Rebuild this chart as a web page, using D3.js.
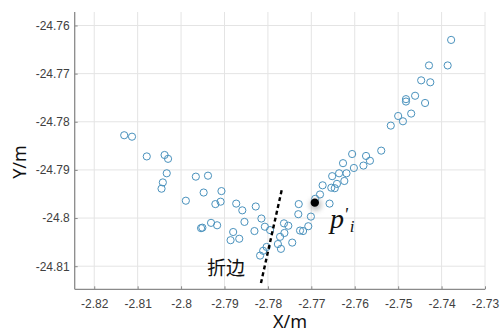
<!DOCTYPE html>
<html>
<head>
<meta charset="utf-8">
<script src="https://cdn.jsdelivr.net/npm/d3@7"></script>
<style>
  body { margin: 0; background: #fff; }
  svg { display: block; }
</style>
</head>
<body>
<div id="chart"></div>
<script>
var svgWidth = 501;
var svgHeight = 333;

// scatter points
var xVals = [-2.8131, -2.8113, -2.8079, -2.8038, -2.8030, -2.8033, -2.8042, -2.8045, -2.7989, -2.7966,
  -2.7938, -2.7948, -2.7907, -2.7921, -2.7909, -2.7954, -2.7951, -2.7931, -2.7917, -2.7873,
  -2.7859, -2.7854, -2.7880, -2.7886, -2.7866, -2.7828, -2.7831, -2.7815, -2.7807, -2.7795,
  -2.7763, -2.7753, -2.7762, -2.7772, -2.7777, -2.7770, -2.7744, -2.7803, -2.7811, -2.7818,
  -2.7729, -2.7730, -2.7701, -2.7707, -2.7726, -2.7719, -2.7691, -2.7680, -2.7674, -2.7658,
  -2.7652, -2.7654, -2.7646, -2.7641, -2.7636, -2.7627, -2.7624, -2.7619, -2.7602, -2.7580,
  -2.7565, -2.7574, -2.7606, -2.7539, -2.7517, -2.7500, -2.7489, -2.7470, -2.7482, -2.7482,
  -2.7461, -2.7438, -2.7447, -2.7426, -2.7429, -2.7386, -2.7378];
var yVals = [-24.7828, -24.7831, -24.7872, -24.7869, -24.7877, -24.7907, -24.7926, -24.7939, -24.7964, -24.7914,
  -24.7912, -24.7947, -24.7944, -24.7971, -24.7966, -24.8021, -24.8020, -24.8010, -24.8015, -24.7970,
  -24.7984, -24.8008, -24.8029, -24.8046, -24.8043, -24.7976, -24.8027, -24.8001, -24.8018, -24.8025,
  -24.8011, -24.8016, -24.8031, -24.8039, -24.8054, -24.8064, -24.8051, -24.8060, -24.8068, -24.8078,
  -24.7971, -24.7992, -24.7997, -24.8017, -24.8026, -24.8027, -24.7960, -24.7951, -24.7932, -24.7970,
  -24.7913, -24.7937, -24.7938, -24.7929, -24.7907, -24.7886, -24.7923, -24.7907, -24.7896, -24.7891,
  -24.7881, -24.7871, -24.7867, -24.7860, -24.7808, -24.7788, -24.7799, -24.7783, -24.7753, -24.7758,
  -24.7746, -24.7761, -24.7714, -24.7718, -24.7683, -24.7683, -24.7630];

// highlighted point p'_i
var markX = [-2.7692];
var markY = [-24.7968];

// folded edge (dashed line) end points
var edgeX = [-2.7816, -2.7767];
var edgeY = [-24.8135, -24.7937];

var xTicks = [-2.82, -2.81, -2.80, -2.79, -2.78, -2.77, -2.76, -2.75, -2.74, -2.73];
var xTickLabels = ["-2.82", "-2.81", "-2.8", "-2.79", "-2.78", "-2.77", "-2.76", "-2.75", "-2.74", "-2.73"];
var yTicks = [-24.76, -24.77, -24.78, -24.79, -24.80, -24.81];
var yTickLabels = ["-24.76", "-24.77", "-24.78", "-24.79", "-24.8", "-24.81"];

var points = xVals.map(function(x, i) { return { x: x, y: yVals[i] }; });

var plot = { left: 74.7, right: 485, top: 12, bottom: 289.3 };

var svg = d3.select("#chart")
  .append("svg")
  .attr("width", svgWidth)
  .attr("height", svgHeight);

var defs = svg.append("defs");
var glow = defs.append("filter").attr("id", "glow")
  .attr("x", "-150%").attr("y", "-150%").attr("width", "400%").attr("height", "400%");
glow.append("feGaussianBlur").attr("stdDeviation", 2.5);

var xScale = d3.scaleLinear()
  .domain([-2.8245, -2.73])
  .range([plot.left, plot.right]);

var yScale = d3.scaleLinear()
  .domain([-24.8148, -24.7572])
  .range([plot.bottom, plot.top]);

// grid
var grid = svg.append("g").attr("stroke", "#e4e4e4").attr("stroke-width", 1);
grid.selectAll(".vg").data(xTicks).enter().append("line")
  .attr("x1", d => xScale(d)).attr("x2", d => xScale(d))
  .attr("y1", plot.top).attr("y2", plot.bottom);
grid.selectAll(".hg").data(yTicks).enter().append("line")
  .attr("x1", plot.left).attr("x2", plot.right)
  .attr("y1", d => yScale(d)).attr("y2", d => yScale(d));

// axes
var bottomAxis = d3.axisBottom(xScale)
  .tickValues(xTicks)
  .tickFormat((d, i) => xTickLabels[i])
  .tickSize(-3)
  .tickPadding(10);
var leftAxis = d3.axisLeft(yScale)
  .tickValues(yTicks)
  .tickFormat((d, i) => yTickLabels[i])
  .tickSize(-3)
  .tickPadding(5);

var xAxis = svg.append("g")
  .attr("transform", `translate(0, ${plot.bottom})`)
  .call(bottomAxis);
var yAxis = svg.append("g")
  .attr("transform", `translate(${plot.left}, 0)`)
  .call(leftAxis);

[xAxis, yAxis].forEach(function(ax) {
  ax.select(".domain").attr("stroke", "#8a8a8a").attr("stroke-width", 1.3);
  ax.selectAll(".tick line").attr("stroke", "#8a8a8a");
  ax.selectAll(".tick text")
    .attr("fill", "#404040")
    .style("font-family", "'Liberation Sans', Arial, sans-serif")
    .style("font-size", "12px");
});
xAxis.select(".domain").attr("d", `M${plot.left},0H${plot.right}`);
yAxis.select(".domain").attr("d", `M0,${plot.bottom}V${plot.top}`);

// scatter circles
svg.append("g").selectAll("circle")
  .data(points)
  .enter()
  .append("circle")
  .attr("cx", d => xScale(d.x))
  .attr("cy", d => yScale(d.y))
  .attr("r", 3.6)
  .attr("fill", "none")
  .attr("stroke", "#4a92bd")
  .attr("stroke-width", 1);

// dashed fold edge
svg.append("line")
  .attr("x1", xScale(edgeX[0])).attr("y1", yScale(edgeY[0]))
  .attr("x2", xScale(edgeX[1])).attr("y2", yScale(edgeY[1]))
  .attr("stroke", "#000")
  .attr("stroke-width", 2.4)
  .attr("stroke-dasharray", "4,3");

// highlighted point with soft shadow
svg.append("circle")
  .attr("cx", xScale(markX[0]) + 1).attr("cy", yScale(markY[0]) + 2)
  .attr("r", 6)
  .attr("fill", "#999")
  .attr("opacity", 0.6)
  .attr("filter", "url(#glow)");
svg.append("circle")
  .attr("cx", xScale(markX[0])).attr("cy", yScale(markY[0]))
  .attr("r", 4.2)
  .attr("fill", "#000");

// annotations
svg.append("text")
  .attr("x", 207)
  .attr("y", 275)
  .style("font-family", "'Noto Sans CJK SC', sans-serif")
  .style("font-size", "19px")
  .attr("fill", "#111")
  .text("折边");

var pLabel = svg.append("text")
  .attr("x", 330)
  .attr("y", 228)
  .style("font-family", "'Liberation Serif', 'DejaVu Serif', serif")
  .style("font-style", "italic")
  .attr("fill", "#111");
pLabel.append("tspan").style("font-size", "28px").text("p");
pLabel.append("tspan").style("font-size", "18px").attr("dx", 0).attr("dy", -7).text("'");
pLabel.append("tspan").style("font-size", "17px").attr("dx", 2).attr("dy", 11).text("i");

// axis titles
svg.append("text")
  .attr("x", 290)
  .attr("y", 328)
  .attr("text-anchor", "middle")
  .style("font-family", "'Noto Sans', 'Open Sans', sans-serif")
  .style("font-size", "18px")
  .attr("fill", "#111")
  .text("X/m");

svg.append("text")
  .attr("transform", "translate(26, 162) rotate(-90)")
  .attr("text-anchor", "middle")
  .style("font-family", "'Noto Sans', 'Open Sans', sans-serif")
  .style("font-size", "18px")
  .attr("fill", "#111")
  .text("Y/m");
</script>
</body>
</html>
